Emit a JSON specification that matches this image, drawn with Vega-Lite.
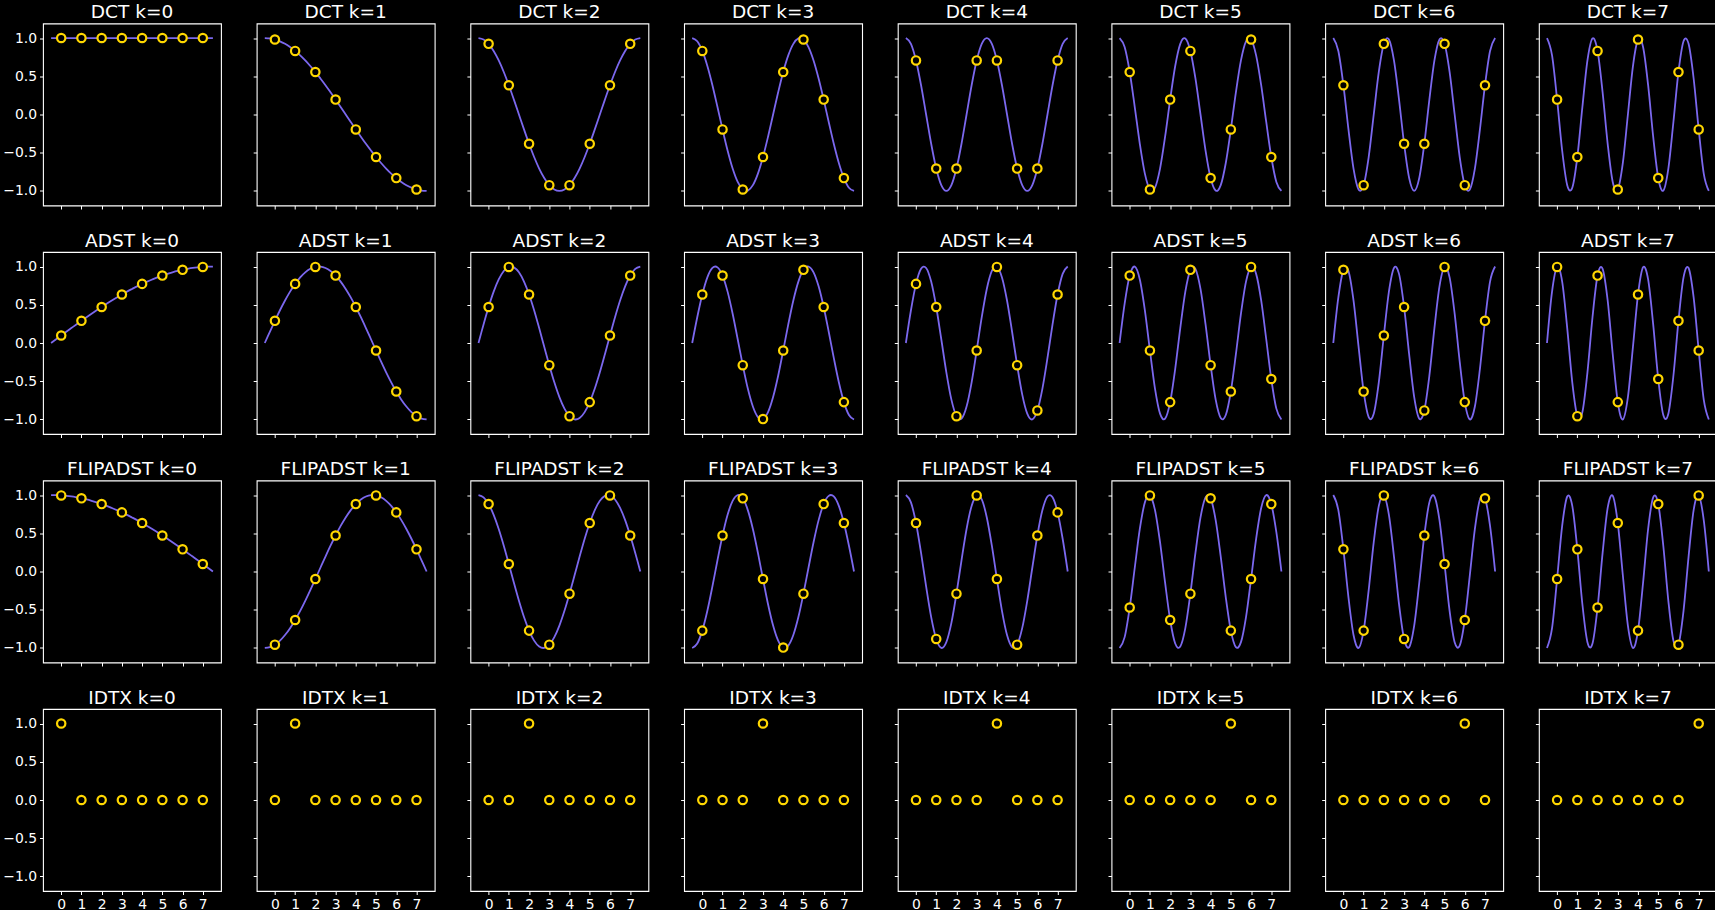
{
"$schema":"https://vega.github.io/schema/vega-lite/v6.json",
"background":"#000000",
"padding":{"left":2,"top":1.5,"right":0,"bottom":0},
"data":{"values":[
{"p":"D0","x":-0.5,"y":1},{"p":"D0","x":0,"y":1,"m":1},{"p":"D0","x":1,"y":1,"m":1},{"p":"D0","x":2,"y":1,"m":1},{"p":"D0","x":3,"y":1,"m":1},{"p":"D0","x":4,"y":1,"m":1},{"p":"D0","x":5,"y":1,"m":1},{"p":"D0","x":6,"y":1,"m":1},{"p":"D0","x":7,"y":1,"m":1},{"p":"D0","x":7.5,"y":1},

{"p":"D1","x":-0.5,"y":1},{"p":"D1","x":-0.25,"y":0.995},{"p":"D1","x":0,"y":0.981,"m":1},{"p":"D1","x":0.25,"y":0.957},{"p":"D1","x":0.5,"y":0.924},{"p":"D1","x":0.75,"y":0.882},{"p":"D1","x":1,"y":0.831,"m":1},{"p":"D1","x":1.25,"y":0.773},{"p":"D1","x":1.5,"y":0.707},{"p":"D1","x":1.75,"y":0.634},{"p":"D1","x":2,"y":0.556,"m":1},{"p":"D1","x":2.25,"y":0.471},{"p":"D1","x":2.5,"y":0.383},{"p":"D1","x":2.75,"y":0.29},{"p":"D1","x":3,"y":0.195,"m":1},{"p":"D1","x":3.25,"y":0.098},{"p":"D1","x":3.5,"y":0},{"p":"D1","x":3.75,"y":-0.098},{"p":"D1","x":4,"y":-0.195,"m":1},{"p":"D1","x":4.25,"y":-0.29},{"p":"D1","x":4.5,"y":-0.383},{"p":"D1","x":4.75,"y":-0.471},{"p":"D1","x":5,"y":-0.556,"m":1},{"p":"D1","x":5.25,"y":-0.634},{"p":"D1","x":5.5,"y":-0.707},{"p":"D1","x":5.75,"y":-0.773},{"p":"D1","x":6,"y":-0.831,"m":1},{"p":"D1","x":6.25,"y":-0.882},{"p":"D1","x":6.5,"y":-0.924},{"p":"D1","x":6.75,"y":-0.957},{"p":"D1","x":7,"y":-0.981,"m":1},{"p":"D1","x":7.25,"y":-0.995},{"p":"D1","x":7.5,"y":-1},

{"p":"D2","x":-0.5,"y":1},{"p":"D2","x":-0.25,"y":0.981},{"p":"D2","x":0,"y":0.924,"m":1},{"p":"D2","x":0.25,"y":0.831},{"p":"D2","x":0.5,"y":0.707},{"p":"D2","x":0.75,"y":0.556},{"p":"D2","x":1,"y":0.383,"m":1},{"p":"D2","x":1.25,"y":0.195},{"p":"D2","x":1.5,"y":0},{"p":"D2","x":1.75,"y":-0.195},{"p":"D2","x":2,"y":-0.383,"m":1},{"p":"D2","x":2.25,"y":-0.556},{"p":"D2","x":2.5,"y":-0.707},{"p":"D2","x":2.75,"y":-0.831},{"p":"D2","x":3,"y":-0.924,"m":1},{"p":"D2","x":3.25,"y":-0.981},{"p":"D2","x":3.5,"y":-1},{"p":"D2","x":3.75,"y":-0.981},{"p":"D2","x":4,"y":-0.924,"m":1},{"p":"D2","x":4.25,"y":-0.831},{"p":"D2","x":4.5,"y":-0.707},{"p":"D2","x":4.75,"y":-0.556},{"p":"D2","x":5,"y":-0.383,"m":1},{"p":"D2","x":5.25,"y":-0.195},{"p":"D2","x":5.5,"y":0},{"p":"D2","x":5.75,"y":0.195},{"p":"D2","x":6,"y":0.383,"m":1},{"p":"D2","x":6.25,"y":0.556},{"p":"D2","x":6.5,"y":0.707},{"p":"D2","x":6.75,"y":0.831},{"p":"D2","x":7,"y":0.924,"m":1},{"p":"D2","x":7.25,"y":0.981},{"p":"D2","x":7.5,"y":1},

{"p":"D3","x":-0.5,"y":1},{"p":"D3","x":-0.25,"y":0.957},{"p":"D3","x":0,"y":0.831,"m":1},{"p":"D3","x":0.25,"y":0.634},{"p":"D3","x":0.5,"y":0.383},{"p":"D3","x":0.75,"y":0.098},{"p":"D3","x":1,"y":-0.195,"m":1},{"p":"D3","x":1.25,"y":-0.471},{"p":"D3","x":1.5,"y":-0.707},{"p":"D3","x":1.75,"y":-0.882},{"p":"D3","x":2,"y":-0.981,"m":1},{"p":"D3","x":2.25,"y":-0.995},{"p":"D3","x":2.5,"y":-0.924},{"p":"D3","x":2.75,"y":-0.773},{"p":"D3","x":3,"y":-0.556,"m":1},{"p":"D3","x":3.25,"y":-0.29},{"p":"D3","x":3.5,"y":0},{"p":"D3","x":3.75,"y":0.29},{"p":"D3","x":4,"y":0.556,"m":1},{"p":"D3","x":4.25,"y":0.773},{"p":"D3","x":4.5,"y":0.924},{"p":"D3","x":4.75,"y":0.995},{"p":"D3","x":5,"y":0.981,"m":1},{"p":"D3","x":5.25,"y":0.882},{"p":"D3","x":5.5,"y":0.707},{"p":"D3","x":5.75,"y":0.471},{"p":"D3","x":6,"y":0.195,"m":1},{"p":"D3","x":6.25,"y":-0.098},{"p":"D3","x":6.5,"y":-0.383},{"p":"D3","x":6.75,"y":-0.634},{"p":"D3","x":7,"y":-0.831,"m":1},{"p":"D3","x":7.25,"y":-0.957},{"p":"D3","x":7.5,"y":-1},

{"p":"D4","x":-0.5,"y":1},{"p":"D4","x":-0.25,"y":0.924},{"p":"D4","x":0,"y":0.707,"m":1},{"p":"D4","x":0.25,"y":0.383},{"p":"D4","x":0.5,"y":0},{"p":"D4","x":0.75,"y":-0.383},{"p":"D4","x":1,"y":-0.707,"m":1},{"p":"D4","x":1.25,"y":-0.924},{"p":"D4","x":1.5,"y":-1},{"p":"D4","x":1.75,"y":-0.924},{"p":"D4","x":2,"y":-0.707,"m":1},{"p":"D4","x":2.25,"y":-0.383},{"p":"D4","x":2.5,"y":0},{"p":"D4","x":2.75,"y":0.383},{"p":"D4","x":3,"y":0.707,"m":1},{"p":"D4","x":3.25,"y":0.924},{"p":"D4","x":3.5,"y":1},{"p":"D4","x":3.75,"y":0.924},{"p":"D4","x":4,"y":0.707,"m":1},{"p":"D4","x":4.25,"y":0.383},{"p":"D4","x":4.5,"y":0},{"p":"D4","x":4.75,"y":-0.383},{"p":"D4","x":5,"y":-0.707,"m":1},{"p":"D4","x":5.25,"y":-0.924},{"p":"D4","x":5.5,"y":-1},{"p":"D4","x":5.75,"y":-0.924},{"p":"D4","x":6,"y":-0.707,"m":1},{"p":"D4","x":6.25,"y":-0.383},{"p":"D4","x":6.5,"y":0},{"p":"D4","x":6.75,"y":0.383},{"p":"D4","x":7,"y":0.707,"m":1},{"p":"D4","x":7.25,"y":0.924},{"p":"D4","x":7.5,"y":1},

{"p":"D5","x":-0.5,"y":1},{"p":"D5","x":-0.25,"y":0.882},{"p":"D5","x":0,"y":0.556,"m":1},{"p":"D5","x":0.25,"y":0.098},{"p":"D5","x":0.5,"y":-0.383},{"p":"D5","x":0.75,"y":-0.773},{"p":"D5","x":1,"y":-0.981,"m":1},{"p":"D5","x":1.25,"y":-0.957},{"p":"D5","x":1.5,"y":-0.707},{"p":"D5","x":1.75,"y":-0.29},{"p":"D5","x":2,"y":0.195,"m":1},{"p":"D5","x":2.25,"y":0.634},{"p":"D5","x":2.5,"y":0.924},{"p":"D5","x":2.75,"y":0.995},{"p":"D5","x":3,"y":0.831,"m":1},{"p":"D5","x":3.25,"y":0.471},{"p":"D5","x":3.5,"y":0},{"p":"D5","x":3.75,"y":-0.471},{"p":"D5","x":4,"y":-0.831,"m":1},{"p":"D5","x":4.25,"y":-0.995},{"p":"D5","x":4.5,"y":-0.924},{"p":"D5","x":4.75,"y":-0.634},{"p":"D5","x":5,"y":-0.195,"m":1},{"p":"D5","x":5.25,"y":0.29},{"p":"D5","x":5.5,"y":0.707},{"p":"D5","x":5.75,"y":0.957},{"p":"D5","x":6,"y":0.981,"m":1},{"p":"D5","x":6.25,"y":0.773},{"p":"D5","x":6.5,"y":0.383},{"p":"D5","x":6.75,"y":-0.098},{"p":"D5","x":7,"y":-0.556,"m":1},{"p":"D5","x":7.25,"y":-0.882},{"p":"D5","x":7.5,"y":-1},

{"p":"D6","x":-0.5,"y":1},{"p":"D6","x":-0.25,"y":0.831},{"p":"D6","x":0,"y":0.383,"m":1},{"p":"D6","x":0.25,"y":-0.195},{"p":"D6","x":0.5,"y":-0.707},{"p":"D6","x":0.75,"y":-0.981},{"p":"D6","x":1,"y":-0.924,"m":1},{"p":"D6","x":1.25,"y":-0.556},{"p":"D6","x":1.5,"y":0},{"p":"D6","x":1.75,"y":0.556},{"p":"D6","x":2,"y":0.924,"m":1},{"p":"D6","x":2.25,"y":0.981},{"p":"D6","x":2.5,"y":0.707},{"p":"D6","x":2.75,"y":0.195},{"p":"D6","x":3,"y":-0.383,"m":1},{"p":"D6","x":3.25,"y":-0.831},{"p":"D6","x":3.5,"y":-1},{"p":"D6","x":3.75,"y":-0.831},{"p":"D6","x":4,"y":-0.383,"m":1},{"p":"D6","x":4.25,"y":0.195},{"p":"D6","x":4.5,"y":0.707},{"p":"D6","x":4.75,"y":0.981},{"p":"D6","x":5,"y":0.924,"m":1},{"p":"D6","x":5.25,"y":0.556},{"p":"D6","x":5.5,"y":0},{"p":"D6","x":5.75,"y":-0.556},{"p":"D6","x":6,"y":-0.924,"m":1},{"p":"D6","x":6.25,"y":-0.981},{"p":"D6","x":6.5,"y":-0.707},{"p":"D6","x":6.75,"y":-0.195},{"p":"D6","x":7,"y":0.383,"m":1},{"p":"D6","x":7.25,"y":0.831},{"p":"D6","x":7.5,"y":1},

{"p":"D7","x":-0.5,"y":1},{"p":"D7","x":-0.25,"y":0.773},{"p":"D7","x":0,"y":0.195,"m":1},{"p":"D7","x":0.25,"y":-0.471},{"p":"D7","x":0.5,"y":-0.924},{"p":"D7","x":0.75,"y":-0.957},{"p":"D7","x":1,"y":-0.556,"m":1},{"p":"D7","x":1.25,"y":0.098},{"p":"D7","x":1.5,"y":0.707},{"p":"D7","x":1.75,"y":0.995},{"p":"D7","x":2,"y":0.831,"m":1},{"p":"D7","x":2.25,"y":0.29},{"p":"D7","x":2.5,"y":-0.383},{"p":"D7","x":2.75,"y":-0.882},{"p":"D7","x":3,"y":-0.981,"m":1},{"p":"D7","x":3.25,"y":-0.634},{"p":"D7","x":3.5,"y":0},{"p":"D7","x":3.75,"y":0.634},{"p":"D7","x":4,"y":0.981,"m":1},{"p":"D7","x":4.25,"y":0.882},{"p":"D7","x":4.5,"y":0.383},{"p":"D7","x":4.75,"y":-0.29},{"p":"D7","x":5,"y":-0.831,"m":1},{"p":"D7","x":5.25,"y":-0.995},{"p":"D7","x":5.5,"y":-0.707},{"p":"D7","x":5.75,"y":-0.098},{"p":"D7","x":6,"y":0.556,"m":1},{"p":"D7","x":6.25,"y":0.957},{"p":"D7","x":6.5,"y":0.924},{"p":"D7","x":6.75,"y":0.471},{"p":"D7","x":7,"y":-0.195,"m":1},{"p":"D7","x":7.25,"y":-0.773},{"p":"D7","x":7.5,"y":-1},

{"p":"A0","x":-0.5,"y":0},{"p":"A0","x":-0.25,"y":0.049},{"p":"A0","x":0,"y":0.098,"m":1},{"p":"A0","x":0.25,"y":0.147},{"p":"A0","x":0.5,"y":0.195},{"p":"A0","x":0.75,"y":0.243},{"p":"A0","x":1,"y":0.29,"m":1},{"p":"A0","x":1.25,"y":0.337},{"p":"A0","x":1.5,"y":0.383},{"p":"A0","x":1.75,"y":0.428},{"p":"A0","x":2,"y":0.471,"m":1},{"p":"A0","x":2.25,"y":0.514},{"p":"A0","x":2.5,"y":0.556},{"p":"A0","x":2.75,"y":0.596},{"p":"A0","x":3,"y":0.634,"m":1},{"p":"A0","x":3.25,"y":0.672},{"p":"A0","x":3.5,"y":0.707},{"p":"A0","x":3.75,"y":0.741},{"p":"A0","x":4,"y":0.773,"m":1},{"p":"A0","x":4.25,"y":0.803},{"p":"A0","x":4.5,"y":0.831},{"p":"A0","x":4.75,"y":0.858},{"p":"A0","x":5,"y":0.882,"m":1},{"p":"A0","x":5.25,"y":0.904},{"p":"A0","x":5.5,"y":0.924},{"p":"A0","x":5.75,"y":0.942},{"p":"A0","x":6,"y":0.957,"m":1},{"p":"A0","x":6.25,"y":0.97},{"p":"A0","x":6.5,"y":0.981},{"p":"A0","x":6.75,"y":0.989},{"p":"A0","x":7,"y":0.995,"m":1},{"p":"A0","x":7.25,"y":0.999},{"p":"A0","x":7.5,"y":1},

{"p":"A1","x":-0.5,"y":0},{"p":"A1","x":-0.25,"y":0.147},{"p":"A1","x":0,"y":0.29,"m":1},{"p":"A1","x":0.25,"y":0.428},{"p":"A1","x":0.5,"y":0.556},{"p":"A1","x":0.75,"y":0.672},{"p":"A1","x":1,"y":0.773,"m":1},{"p":"A1","x":1.25,"y":0.858},{"p":"A1","x":1.5,"y":0.924},{"p":"A1","x":1.75,"y":0.97},{"p":"A1","x":2,"y":0.995,"m":1},{"p":"A1","x":2.25,"y":0.999},{"p":"A1","x":2.5,"y":0.981},{"p":"A1","x":2.75,"y":0.942},{"p":"A1","x":3,"y":0.882,"m":1},{"p":"A1","x":3.25,"y":0.803},{"p":"A1","x":3.5,"y":0.707},{"p":"A1","x":3.75,"y":0.596},{"p":"A1","x":4,"y":0.471,"m":1},{"p":"A1","x":4.25,"y":0.337},{"p":"A1","x":4.5,"y":0.195},{"p":"A1","x":4.75,"y":0.049},{"p":"A1","x":5,"y":-0.098,"m":1},{"p":"A1","x":5.25,"y":-0.243},{"p":"A1","x":5.5,"y":-0.383},{"p":"A1","x":5.75,"y":-0.514},{"p":"A1","x":6,"y":-0.634,"m":1},{"p":"A1","x":6.25,"y":-0.741},{"p":"A1","x":6.5,"y":-0.831},{"p":"A1","x":6.75,"y":-0.904},{"p":"A1","x":7,"y":-0.957,"m":1},{"p":"A1","x":7.25,"y":-0.989},{"p":"A1","x":7.5,"y":-1},

{"p":"A2","x":-0.5,"y":0},{"p":"A2","x":-0.25,"y":0.243},{"p":"A2","x":0,"y":0.471,"m":1},{"p":"A2","x":0.25,"y":0.672},{"p":"A2","x":0.5,"y":0.831},{"p":"A2","x":0.75,"y":0.942},{"p":"A2","x":1,"y":0.995,"m":1},{"p":"A2","x":1.25,"y":0.989},{"p":"A2","x":1.5,"y":0.924},{"p":"A2","x":1.75,"y":0.803},{"p":"A2","x":2,"y":0.634,"m":1},{"p":"A2","x":2.25,"y":0.428},{"p":"A2","x":2.5,"y":0.195},{"p":"A2","x":2.75,"y":-0.049},{"p":"A2","x":3,"y":-0.29,"m":1},{"p":"A2","x":3.25,"y":-0.514},{"p":"A2","x":3.5,"y":-0.707},{"p":"A2","x":3.75,"y":-0.858},{"p":"A2","x":4,"y":-0.957,"m":1},{"p":"A2","x":4.25,"y":-0.999},{"p":"A2","x":4.5,"y":-0.981},{"p":"A2","x":4.75,"y":-0.904},{"p":"A2","x":5,"y":-0.773,"m":1},{"p":"A2","x":5.25,"y":-0.596},{"p":"A2","x":5.5,"y":-0.383},{"p":"A2","x":5.75,"y":-0.147},{"p":"A2","x":6,"y":0.098,"m":1},{"p":"A2","x":6.25,"y":0.337},{"p":"A2","x":6.5,"y":0.556},{"p":"A2","x":6.75,"y":0.741},{"p":"A2","x":7,"y":0.882,"m":1},{"p":"A2","x":7.25,"y":0.97},{"p":"A2","x":7.5,"y":1},

{"p":"A3","x":-0.5,"y":0},{"p":"A3","x":-0.25,"y":0.337},{"p":"A3","x":0,"y":0.634,"m":1},{"p":"A3","x":0.25,"y":0.858},{"p":"A3","x":0.5,"y":0.981},{"p":"A3","x":0.75,"y":0.989},{"p":"A3","x":1,"y":0.882,"m":1},{"p":"A3","x":1.25,"y":0.672},{"p":"A3","x":1.5,"y":0.383},{"p":"A3","x":1.75,"y":0.049},{"p":"A3","x":2,"y":-0.29,"m":1},{"p":"A3","x":2.25,"y":-0.596},{"p":"A3","x":2.5,"y":-0.831},{"p":"A3","x":2.75,"y":-0.97},{"p":"A3","x":3,"y":-0.995,"m":1},{"p":"A3","x":3.25,"y":-0.904},{"p":"A3","x":3.5,"y":-0.707},{"p":"A3","x":3.75,"y":-0.428},{"p":"A3","x":4,"y":-0.098,"m":1},{"p":"A3","x":4.25,"y":0.243},{"p":"A3","x":4.5,"y":0.556},{"p":"A3","x":4.75,"y":0.803},{"p":"A3","x":5,"y":0.957,"m":1},{"p":"A3","x":5.25,"y":0.999},{"p":"A3","x":5.5,"y":0.924},{"p":"A3","x":5.75,"y":0.741},{"p":"A3","x":6,"y":0.471,"m":1},{"p":"A3","x":6.25,"y":0.147},{"p":"A3","x":6.5,"y":-0.195},{"p":"A3","x":6.75,"y":-0.514},{"p":"A3","x":7,"y":-0.773,"m":1},{"p":"A3","x":7.25,"y":-0.942},{"p":"A3","x":7.5,"y":-1},

{"p":"A4","x":-0.5,"y":0},{"p":"A4","x":-0.25,"y":0.428},{"p":"A4","x":0,"y":0.773,"m":1},{"p":"A4","x":0.25,"y":0.97},{"p":"A4","x":0.5,"y":0.981},{"p":"A4","x":0.75,"y":0.803},{"p":"A4","x":1,"y":0.471,"m":1},{"p":"A4","x":1.25,"y":0.049},{"p":"A4","x":1.5,"y":-0.383},{"p":"A4","x":1.75,"y":-0.741},{"p":"A4","x":2,"y":-0.957,"m":1},{"p":"A4","x":2.25,"y":-0.989},{"p":"A4","x":2.5,"y":-0.831},{"p":"A4","x":2.75,"y":-0.514},{"p":"A4","x":3,"y":-0.098,"m":1},{"p":"A4","x":3.25,"y":0.337},{"p":"A4","x":3.5,"y":0.707},{"p":"A4","x":3.75,"y":0.942},{"p":"A4","x":4,"y":0.995,"m":1},{"p":"A4","x":4.25,"y":0.858},{"p":"A4","x":4.5,"y":0.556},{"p":"A4","x":4.75,"y":0.147},{"p":"A4","x":5,"y":-0.29,"m":1},{"p":"A4","x":5.25,"y":-0.672},{"p":"A4","x":5.5,"y":-0.924},{"p":"A4","x":5.75,"y":-0.999},{"p":"A4","x":6,"y":-0.882,"m":1},{"p":"A4","x":6.25,"y":-0.596},{"p":"A4","x":6.5,"y":-0.195},{"p":"A4","x":6.75,"y":0.243},{"p":"A4","x":7,"y":0.634,"m":1},{"p":"A4","x":7.25,"y":0.904},{"p":"A4","x":7.5,"y":1},

{"p":"A5","x":-0.5,"y":0},{"p":"A5","x":-0.25,"y":0.514},{"p":"A5","x":0,"y":0.882,"m":1},{"p":"A5","x":0.25,"y":0.999},{"p":"A5","x":0.5,"y":0.831},{"p":"A5","x":0.75,"y":0.428},{"p":"A5","x":1,"y":-0.098,"m":1},{"p":"A5","x":1.25,"y":-0.596},{"p":"A5","x":1.5,"y":-0.924},{"p":"A5","x":1.75,"y":-0.989},{"p":"A5","x":2,"y":-0.773,"m":1},{"p":"A5","x":2.25,"y":-0.337},{"p":"A5","x":2.5,"y":0.195},{"p":"A5","x":2.75,"y":0.672},{"p":"A5","x":3,"y":0.957,"m":1},{"p":"A5","x":3.25,"y":0.97},{"p":"A5","x":3.5,"y":0.707},{"p":"A5","x":3.75,"y":0.243},{"p":"A5","x":4,"y":-0.29,"m":1},{"p":"A5","x":4.25,"y":-0.741},{"p":"A5","x":4.5,"y":-0.981},{"p":"A5","x":4.75,"y":-0.942},{"p":"A5","x":5,"y":-0.634,"m":1},{"p":"A5","x":5.25,"y":-0.147},{"p":"A5","x":5.5,"y":0.383},{"p":"A5","x":5.75,"y":0.803},{"p":"A5","x":6,"y":0.995,"m":1},{"p":"A5","x":6.25,"y":0.904},{"p":"A5","x":6.5,"y":0.556},{"p":"A5","x":6.75,"y":0.049},{"p":"A5","x":7,"y":-0.471,"m":1},{"p":"A5","x":7.25,"y":-0.858},{"p":"A5","x":7.5,"y":-1},

{"p":"A6","x":-0.5,"y":0},{"p":"A6","x":-0.25,"y":0.596},{"p":"A6","x":0,"y":0.957,"m":1},{"p":"A6","x":0.25,"y":0.942},{"p":"A6","x":0.5,"y":0.556},{"p":"A6","x":0.75,"y":-0.049},{"p":"A6","x":1,"y":-0.634,"m":1},{"p":"A6","x":1.25,"y":-0.97},{"p":"A6","x":1.5,"y":-0.924},{"p":"A6","x":1.75,"y":-0.514},{"p":"A6","x":2,"y":0.098,"m":1},{"p":"A6","x":2.25,"y":0.672},{"p":"A6","x":2.5,"y":0.981},{"p":"A6","x":2.75,"y":0.904},{"p":"A6","x":3,"y":0.471,"m":1},{"p":"A6","x":3.25,"y":-0.147},{"p":"A6","x":3.5,"y":-0.707},{"p":"A6","x":3.75,"y":-0.989},{"p":"A6","x":4,"y":-0.882,"m":1},{"p":"A6","x":4.25,"y":-0.428},{"p":"A6","x":4.5,"y":0.195},{"p":"A6","x":4.75,"y":0.741},{"p":"A6","x":5,"y":0.995,"m":1},{"p":"A6","x":5.25,"y":0.858},{"p":"A6","x":5.5,"y":0.383},{"p":"A6","x":5.75,"y":-0.243},{"p":"A6","x":6,"y":-0.773,"m":1},{"p":"A6","x":6.25,"y":-0.999},{"p":"A6","x":6.5,"y":-0.831},{"p":"A6","x":6.75,"y":-0.337},{"p":"A6","x":7,"y":0.29,"m":1},{"p":"A6","x":7.25,"y":0.803},{"p":"A6","x":7.5,"y":1},

{"p":"A7","x":-0.5,"y":0},{"p":"A7","x":-0.25,"y":0.672},{"p":"A7","x":0,"y":0.995,"m":1},{"p":"A7","x":0.25,"y":0.803},{"p":"A7","x":0.5,"y":0.195},{"p":"A7","x":0.75,"y":-0.514},{"p":"A7","x":1,"y":-0.957,"m":1},{"p":"A7","x":1.25,"y":-0.904},{"p":"A7","x":1.5,"y":-0.383},{"p":"A7","x":1.75,"y":0.337},{"p":"A7","x":2,"y":0.882,"m":1},{"p":"A7","x":2.25,"y":0.97},{"p":"A7","x":2.5,"y":0.556},{"p":"A7","x":2.75,"y":-0.147},{"p":"A7","x":3,"y":-0.773,"m":1},{"p":"A7","x":3.25,"y":-0.999},{"p":"A7","x":3.5,"y":-0.707},{"p":"A7","x":3.75,"y":-0.049},{"p":"A7","x":4,"y":0.634,"m":1},{"p":"A7","x":4.25,"y":0.989},{"p":"A7","x":4.5,"y":0.831},{"p":"A7","x":4.75,"y":0.243},{"p":"A7","x":5,"y":-0.471,"m":1},{"p":"A7","x":5.25,"y":-0.942},{"p":"A7","x":5.5,"y":-0.924},{"p":"A7","x":5.75,"y":-0.428},{"p":"A7","x":6,"y":0.29,"m":1},{"p":"A7","x":6.25,"y":0.858},{"p":"A7","x":6.5,"y":0.981},{"p":"A7","x":6.75,"y":0.596},{"p":"A7","x":7,"y":-0.098,"m":1},{"p":"A7","x":7.25,"y":-0.741},{"p":"A7","x":7.5,"y":-1},

{"p":"F0","x":-0.5,"y":1},{"p":"F0","x":-0.25,"y":0.999},{"p":"F0","x":0,"y":0.995,"m":1},{"p":"F0","x":0.25,"y":0.989},{"p":"F0","x":0.5,"y":0.981},{"p":"F0","x":0.75,"y":0.97},{"p":"F0","x":1,"y":0.957,"m":1},{"p":"F0","x":1.25,"y":0.942},{"p":"F0","x":1.5,"y":0.924},{"p":"F0","x":1.75,"y":0.904},{"p":"F0","x":2,"y":0.882,"m":1},{"p":"F0","x":2.25,"y":0.858},{"p":"F0","x":2.5,"y":0.831},{"p":"F0","x":2.75,"y":0.803},{"p":"F0","x":3,"y":0.773,"m":1},{"p":"F0","x":3.25,"y":0.741},{"p":"F0","x":3.5,"y":0.707},{"p":"F0","x":3.75,"y":0.672},{"p":"F0","x":4,"y":0.634,"m":1},{"p":"F0","x":4.25,"y":0.596},{"p":"F0","x":4.5,"y":0.556},{"p":"F0","x":4.75,"y":0.514},{"p":"F0","x":5,"y":0.471,"m":1},{"p":"F0","x":5.25,"y":0.428},{"p":"F0","x":5.5,"y":0.383},{"p":"F0","x":5.75,"y":0.337},{"p":"F0","x":6,"y":0.29,"m":1},{"p":"F0","x":6.25,"y":0.243},{"p":"F0","x":6.5,"y":0.195},{"p":"F0","x":6.75,"y":0.147},{"p":"F0","x":7,"y":0.098,"m":1},{"p":"F0","x":7.25,"y":0.049},{"p":"F0","x":7.5,"y":0},

{"p":"F1","x":-0.5,"y":-1},{"p":"F1","x":-0.25,"y":-0.989},{"p":"F1","x":0,"y":-0.957,"m":1},{"p":"F1","x":0.25,"y":-0.904},{"p":"F1","x":0.5,"y":-0.831},{"p":"F1","x":0.75,"y":-0.741},{"p":"F1","x":1,"y":-0.634,"m":1},{"p":"F1","x":1.25,"y":-0.514},{"p":"F1","x":1.5,"y":-0.383},{"p":"F1","x":1.75,"y":-0.243},{"p":"F1","x":2,"y":-0.098,"m":1},{"p":"F1","x":2.25,"y":0.049},{"p":"F1","x":2.5,"y":0.195},{"p":"F1","x":2.75,"y":0.337},{"p":"F1","x":3,"y":0.471,"m":1},{"p":"F1","x":3.25,"y":0.596},{"p":"F1","x":3.5,"y":0.707},{"p":"F1","x":3.75,"y":0.803},{"p":"F1","x":4,"y":0.882,"m":1},{"p":"F1","x":4.25,"y":0.942},{"p":"F1","x":4.5,"y":0.981},{"p":"F1","x":4.75,"y":0.999},{"p":"F1","x":5,"y":0.995,"m":1},{"p":"F1","x":5.25,"y":0.97},{"p":"F1","x":5.5,"y":0.924},{"p":"F1","x":5.75,"y":0.858},{"p":"F1","x":6,"y":0.773,"m":1},{"p":"F1","x":6.25,"y":0.672},{"p":"F1","x":6.5,"y":0.556},{"p":"F1","x":6.75,"y":0.428},{"p":"F1","x":7,"y":0.29,"m":1},{"p":"F1","x":7.25,"y":0.147},{"p":"F1","x":7.5,"y":0},

{"p":"F2","x":-0.5,"y":1},{"p":"F2","x":-0.25,"y":0.97},{"p":"F2","x":0,"y":0.882,"m":1},{"p":"F2","x":0.25,"y":0.741},{"p":"F2","x":0.5,"y":0.556},{"p":"F2","x":0.75,"y":0.337},{"p":"F2","x":1,"y":0.098,"m":1},{"p":"F2","x":1.25,"y":-0.147},{"p":"F2","x":1.5,"y":-0.383},{"p":"F2","x":1.75,"y":-0.596},{"p":"F2","x":2,"y":-0.773,"m":1},{"p":"F2","x":2.25,"y":-0.904},{"p":"F2","x":2.5,"y":-0.981},{"p":"F2","x":2.75,"y":-0.999},{"p":"F2","x":3,"y":-0.957,"m":1},{"p":"F2","x":3.25,"y":-0.858},{"p":"F2","x":3.5,"y":-0.707},{"p":"F2","x":3.75,"y":-0.514},{"p":"F2","x":4,"y":-0.29,"m":1},{"p":"F2","x":4.25,"y":-0.049},{"p":"F2","x":4.5,"y":0.195},{"p":"F2","x":4.75,"y":0.428},{"p":"F2","x":5,"y":0.634,"m":1},{"p":"F2","x":5.25,"y":0.803},{"p":"F2","x":5.5,"y":0.924},{"p":"F2","x":5.75,"y":0.989},{"p":"F2","x":6,"y":0.995,"m":1},{"p":"F2","x":6.25,"y":0.942},{"p":"F2","x":6.5,"y":0.831},{"p":"F2","x":6.75,"y":0.672},{"p":"F2","x":7,"y":0.471,"m":1},{"p":"F2","x":7.25,"y":0.243},{"p":"F2","x":7.5,"y":0},

{"p":"F3","x":-0.5,"y":-1},{"p":"F3","x":-0.25,"y":-0.942},{"p":"F3","x":0,"y":-0.773,"m":1},{"p":"F3","x":0.25,"y":-0.514},{"p":"F3","x":0.5,"y":-0.195},{"p":"F3","x":0.75,"y":0.147},{"p":"F3","x":1,"y":0.471,"m":1},{"p":"F3","x":1.25,"y":0.741},{"p":"F3","x":1.5,"y":0.924},{"p":"F3","x":1.75,"y":0.999},{"p":"F3","x":2,"y":0.957,"m":1},{"p":"F3","x":2.25,"y":0.803},{"p":"F3","x":2.5,"y":0.556},{"p":"F3","x":2.75,"y":0.243},{"p":"F3","x":3,"y":-0.098,"m":1},{"p":"F3","x":3.25,"y":-0.428},{"p":"F3","x":3.5,"y":-0.707},{"p":"F3","x":3.75,"y":-0.904},{"p":"F3","x":4,"y":-0.995,"m":1},{"p":"F3","x":4.25,"y":-0.97},{"p":"F3","x":4.5,"y":-0.831},{"p":"F3","x":4.75,"y":-0.596},{"p":"F3","x":5,"y":-0.29,"m":1},{"p":"F3","x":5.25,"y":0.049},{"p":"F3","x":5.5,"y":0.383},{"p":"F3","x":5.75,"y":0.672},{"p":"F3","x":6,"y":0.882,"m":1},{"p":"F3","x":6.25,"y":0.989},{"p":"F3","x":6.5,"y":0.981},{"p":"F3","x":6.75,"y":0.858},{"p":"F3","x":7,"y":0.634,"m":1},{"p":"F3","x":7.25,"y":0.337},{"p":"F3","x":7.5,"y":0},

{"p":"F4","x":-0.5,"y":1},{"p":"F4","x":-0.25,"y":0.904},{"p":"F4","x":0,"y":0.634,"m":1},{"p":"F4","x":0.25,"y":0.243},{"p":"F4","x":0.5,"y":-0.195},{"p":"F4","x":0.75,"y":-0.596},{"p":"F4","x":1,"y":-0.882,"m":1},{"p":"F4","x":1.25,"y":-0.999},{"p":"F4","x":1.5,"y":-0.924},{"p":"F4","x":1.75,"y":-0.672},{"p":"F4","x":2,"y":-0.29,"m":1},{"p":"F4","x":2.25,"y":0.147},{"p":"F4","x":2.5,"y":0.556},{"p":"F4","x":2.75,"y":0.858},{"p":"F4","x":3,"y":0.995,"m":1},{"p":"F4","x":3.25,"y":0.942},{"p":"F4","x":3.5,"y":0.707},{"p":"F4","x":3.75,"y":0.337},{"p":"F4","x":4,"y":-0.098,"m":1},{"p":"F4","x":4.25,"y":-0.514},{"p":"F4","x":4.5,"y":-0.831},{"p":"F4","x":4.75,"y":-0.989},{"p":"F4","x":5,"y":-0.957,"m":1},{"p":"F4","x":5.25,"y":-0.741},{"p":"F4","x":5.5,"y":-0.383},{"p":"F4","x":5.75,"y":0.049},{"p":"F4","x":6,"y":0.471,"m":1},{"p":"F4","x":6.25,"y":0.803},{"p":"F4","x":6.5,"y":0.981},{"p":"F4","x":6.75,"y":0.97},{"p":"F4","x":7,"y":0.773,"m":1},{"p":"F4","x":7.25,"y":0.428},{"p":"F4","x":7.5,"y":0},

{"p":"F5","x":-0.5,"y":-1},{"p":"F5","x":-0.25,"y":-0.858},{"p":"F5","x":0,"y":-0.471,"m":1},{"p":"F5","x":0.25,"y":0.049},{"p":"F5","x":0.5,"y":0.556},{"p":"F5","x":0.75,"y":0.904},{"p":"F5","x":1,"y":0.995,"m":1},{"p":"F5","x":1.25,"y":0.803},{"p":"F5","x":1.5,"y":0.383},{"p":"F5","x":1.75,"y":-0.147},{"p":"F5","x":2,"y":-0.634,"m":1},{"p":"F5","x":2.25,"y":-0.942},{"p":"F5","x":2.5,"y":-0.981},{"p":"F5","x":2.75,"y":-0.741},{"p":"F5","x":3,"y":-0.29,"m":1},{"p":"F5","x":3.25,"y":0.243},{"p":"F5","x":3.5,"y":0.707},{"p":"F5","x":3.75,"y":0.97},{"p":"F5","x":4,"y":0.957,"m":1},{"p":"F5","x":4.25,"y":0.672},{"p":"F5","x":4.5,"y":0.195},{"p":"F5","x":4.75,"y":-0.337},{"p":"F5","x":5,"y":-0.773,"m":1},{"p":"F5","x":5.25,"y":-0.989},{"p":"F5","x":5.5,"y":-0.924},{"p":"F5","x":5.75,"y":-0.596},{"p":"F5","x":6,"y":-0.098,"m":1},{"p":"F5","x":6.25,"y":0.428},{"p":"F5","x":6.5,"y":0.831},{"p":"F5","x":6.75,"y":0.999},{"p":"F5","x":7,"y":0.882,"m":1},{"p":"F5","x":7.25,"y":0.514},{"p":"F5","x":7.5,"y":0},

{"p":"F6","x":-0.5,"y":1},{"p":"F6","x":-0.25,"y":0.803},{"p":"F6","x":0,"y":0.29,"m":1},{"p":"F6","x":0.25,"y":-0.337},{"p":"F6","x":0.5,"y":-0.831},{"p":"F6","x":0.75,"y":-0.999},{"p":"F6","x":1,"y":-0.773,"m":1},{"p":"F6","x":1.25,"y":-0.243},{"p":"F6","x":1.5,"y":0.383},{"p":"F6","x":1.75,"y":0.858},{"p":"F6","x":2,"y":0.995,"m":1},{"p":"F6","x":2.25,"y":0.741},{"p":"F6","x":2.5,"y":0.195},{"p":"F6","x":2.75,"y":-0.428},{"p":"F6","x":3,"y":-0.882,"m":1},{"p":"F6","x":3.25,"y":-0.989},{"p":"F6","x":3.5,"y":-0.707},{"p":"F6","x":3.75,"y":-0.147},{"p":"F6","x":4,"y":0.471,"m":1},{"p":"F6","x":4.25,"y":0.904},{"p":"F6","x":4.5,"y":0.981},{"p":"F6","x":4.75,"y":0.672},{"p":"F6","x":5,"y":0.098,"m":1},{"p":"F6","x":5.25,"y":-0.514},{"p":"F6","x":5.5,"y":-0.924},{"p":"F6","x":5.75,"y":-0.97},{"p":"F6","x":6,"y":-0.634,"m":1},{"p":"F6","x":6.25,"y":-0.049},{"p":"F6","x":6.5,"y":0.556},{"p":"F6","x":6.75,"y":0.942},{"p":"F6","x":7,"y":0.957,"m":1},{"p":"F6","x":7.25,"y":0.596},{"p":"F6","x":7.5,"y":0},

{"p":"F7","x":-0.5,"y":-1},{"p":"F7","x":-0.25,"y":-0.741},{"p":"F7","x":0,"y":-0.098,"m":1},{"p":"F7","x":0.25,"y":0.596},{"p":"F7","x":0.5,"y":0.981},{"p":"F7","x":0.75,"y":0.858},{"p":"F7","x":1,"y":0.29,"m":1},{"p":"F7","x":1.25,"y":-0.428},{"p":"F7","x":1.5,"y":-0.924},{"p":"F7","x":1.75,"y":-0.942},{"p":"F7","x":2,"y":-0.471,"m":1},{"p":"F7","x":2.25,"y":0.243},{"p":"F7","x":2.5,"y":0.831},{"p":"F7","x":2.75,"y":0.989},{"p":"F7","x":3,"y":0.634,"m":1},{"p":"F7","x":3.25,"y":-0.049},{"p":"F7","x":3.5,"y":-0.707},{"p":"F7","x":3.75,"y":-0.999},{"p":"F7","x":4,"y":-0.773,"m":1},{"p":"F7","x":4.25,"y":-0.147},{"p":"F7","x":4.5,"y":0.556},{"p":"F7","x":4.75,"y":0.97},{"p":"F7","x":5,"y":0.882,"m":1},{"p":"F7","x":5.25,"y":0.337},{"p":"F7","x":5.5,"y":-0.383},{"p":"F7","x":5.75,"y":-0.904},{"p":"F7","x":6,"y":-0.957,"m":1},{"p":"F7","x":6.25,"y":-0.514},{"p":"F7","x":6.5,"y":0.195},{"p":"F7","x":6.75,"y":0.803},{"p":"F7","x":7,"y":0.995,"m":1},{"p":"F7","x":7.25,"y":0.672},{"p":"F7","x":7.5,"y":0},

{"p":"I0","x":0,"y":1},{"p":"I0","x":1,"y":0},{"p":"I0","x":2,"y":0},{"p":"I0","x":3,"y":0},{"p":"I0","x":4,"y":0},{"p":"I0","x":5,"y":0},{"p":"I0","x":6,"y":0},{"p":"I0","x":7,"y":0},
{"p":"I1","x":0,"y":0},{"p":"I1","x":1,"y":1},{"p":"I1","x":2,"y":0},{"p":"I1","x":3,"y":0},{"p":"I1","x":4,"y":0},{"p":"I1","x":5,"y":0},{"p":"I1","x":6,"y":0},{"p":"I1","x":7,"y":0},
{"p":"I2","x":0,"y":0},{"p":"I2","x":1,"y":0},{"p":"I2","x":2,"y":1},{"p":"I2","x":3,"y":0},{"p":"I2","x":4,"y":0},{"p":"I2","x":5,"y":0},{"p":"I2","x":6,"y":0},{"p":"I2","x":7,"y":0},
{"p":"I3","x":0,"y":0},{"p":"I3","x":1,"y":0},{"p":"I3","x":2,"y":0},{"p":"I3","x":3,"y":1},{"p":"I3","x":4,"y":0},{"p":"I3","x":5,"y":0},{"p":"I3","x":6,"y":0},{"p":"I3","x":7,"y":0},
{"p":"I4","x":0,"y":0},{"p":"I4","x":1,"y":0},{"p":"I4","x":2,"y":0},{"p":"I4","x":3,"y":0},{"p":"I4","x":4,"y":1},{"p":"I4","x":5,"y":0},{"p":"I4","x":6,"y":0},{"p":"I4","x":7,"y":0},
{"p":"I5","x":0,"y":0},{"p":"I5","x":1,"y":0},{"p":"I5","x":2,"y":0},{"p":"I5","x":3,"y":0},{"p":"I5","x":4,"y":0},{"p":"I5","x":5,"y":1},{"p":"I5","x":6,"y":0},{"p":"I5","x":7,"y":0},
{"p":"I6","x":0,"y":0},{"p":"I6","x":1,"y":0},{"p":"I6","x":2,"y":0},{"p":"I6","x":3,"y":0},{"p":"I6","x":4,"y":0},{"p":"I6","x":5,"y":0},{"p":"I6","x":6,"y":1},{"p":"I6","x":7,"y":0},
{"p":"I7","x":0,"y":0},{"p":"I7","x":1,"y":0},{"p":"I7","x":2,"y":0},{"p":"I7","x":3,"y":0},{"p":"I7","x":4,"y":0},{"p":"I7","x":5,"y":0},{"p":"I7","x":6,"y":0},{"p":"I7","x":7,"y":1}
]},
"columns":8,
"spacing":{"row":46.5,"column":35.7},
"bounds":"flush",
"concat":[
{"title":"DCT k=0","transform":[{"filter":"datum.p=='D0'"}],"encoding":{"x":{"field":"x","type":"quantitative","title":null,"scale":{"domain":[-0.9,7.9]}},"y":{"field":"y","type":"quantitative","title":null,"scale":{"domain":[-1.19,1.19]},"axis":{"labels":true}}},"layer":[{"mark":"line"},{"transform":[{"filter":"datum.m"}],"mark":"point"}]},
{"title":"DCT k=1","transform":[{"filter":"datum.p=='D1'"}],"encoding":{"x":{"field":"x","type":"quantitative","title":null,"scale":{"domain":[-0.9,7.9]}},"y":{"field":"y","type":"quantitative","title":null,"scale":{"domain":[-1.19,1.19]}}},"layer":[{"mark":"line"},{"transform":[{"filter":"datum.m"}],"mark":"point"}]},
{"title":"DCT k=2","transform":[{"filter":"datum.p=='D2'"}],"encoding":{"x":{"field":"x","type":"quantitative","title":null,"scale":{"domain":[-0.9,7.9]}},"y":{"field":"y","type":"quantitative","title":null,"scale":{"domain":[-1.19,1.19]}}},"layer":[{"mark":"line"},{"transform":[{"filter":"datum.m"}],"mark":"point"}]},
{"title":"DCT k=3","transform":[{"filter":"datum.p=='D3'"}],"encoding":{"x":{"field":"x","type":"quantitative","title":null,"scale":{"domain":[-0.9,7.9]}},"y":{"field":"y","type":"quantitative","title":null,"scale":{"domain":[-1.19,1.19]}}},"layer":[{"mark":"line"},{"transform":[{"filter":"datum.m"}],"mark":"point"}]},
{"title":"DCT k=4","transform":[{"filter":"datum.p=='D4'"}],"encoding":{"x":{"field":"x","type":"quantitative","title":null,"scale":{"domain":[-0.9,7.9]}},"y":{"field":"y","type":"quantitative","title":null,"scale":{"domain":[-1.19,1.19]}}},"layer":[{"mark":"line"},{"transform":[{"filter":"datum.m"}],"mark":"point"}]},
{"title":"DCT k=5","transform":[{"filter":"datum.p=='D5'"}],"encoding":{"x":{"field":"x","type":"quantitative","title":null,"scale":{"domain":[-0.9,7.9]}},"y":{"field":"y","type":"quantitative","title":null,"scale":{"domain":[-1.19,1.19]}}},"layer":[{"mark":"line"},{"transform":[{"filter":"datum.m"}],"mark":"point"}]},
{"title":"DCT k=6","transform":[{"filter":"datum.p=='D6'"}],"encoding":{"x":{"field":"x","type":"quantitative","title":null,"scale":{"domain":[-0.9,7.9]}},"y":{"field":"y","type":"quantitative","title":null,"scale":{"domain":[-1.19,1.19]}}},"layer":[{"mark":"line"},{"transform":[{"filter":"datum.m"}],"mark":"point"}]},
{"title":"DCT k=7","transform":[{"filter":"datum.p=='D7'"}],"encoding":{"x":{"field":"x","type":"quantitative","title":null,"scale":{"domain":[-0.9,7.9]}},"y":{"field":"y","type":"quantitative","title":null,"scale":{"domain":[-1.19,1.19]}}},"layer":[{"mark":"line"},{"transform":[{"filter":"datum.m"}],"mark":"point"}]},
{"title":"ADST k=0","transform":[{"filter":"datum.p=='A0'"}],"encoding":{"x":{"field":"x","type":"quantitative","title":null,"scale":{"domain":[-0.9,7.9]}},"y":{"field":"y","type":"quantitative","title":null,"scale":{"domain":[-1.19,1.19]},"axis":{"labels":true}}},"layer":[{"mark":"line"},{"transform":[{"filter":"datum.m"}],"mark":"point"}]},
{"title":"ADST k=1","transform":[{"filter":"datum.p=='A1'"}],"encoding":{"x":{"field":"x","type":"quantitative","title":null,"scale":{"domain":[-0.9,7.9]}},"y":{"field":"y","type":"quantitative","title":null,"scale":{"domain":[-1.19,1.19]}}},"layer":[{"mark":"line"},{"transform":[{"filter":"datum.m"}],"mark":"point"}]},
{"title":"ADST k=2","transform":[{"filter":"datum.p=='A2'"}],"encoding":{"x":{"field":"x","type":"quantitative","title":null,"scale":{"domain":[-0.9,7.9]}},"y":{"field":"y","type":"quantitative","title":null,"scale":{"domain":[-1.19,1.19]}}},"layer":[{"mark":"line"},{"transform":[{"filter":"datum.m"}],"mark":"point"}]},
{"title":"ADST k=3","transform":[{"filter":"datum.p=='A3'"}],"encoding":{"x":{"field":"x","type":"quantitative","title":null,"scale":{"domain":[-0.9,7.9]}},"y":{"field":"y","type":"quantitative","title":null,"scale":{"domain":[-1.19,1.19]}}},"layer":[{"mark":"line"},{"transform":[{"filter":"datum.m"}],"mark":"point"}]},
{"title":"ADST k=4","transform":[{"filter":"datum.p=='A4'"}],"encoding":{"x":{"field":"x","type":"quantitative","title":null,"scale":{"domain":[-0.9,7.9]}},"y":{"field":"y","type":"quantitative","title":null,"scale":{"domain":[-1.19,1.19]}}},"layer":[{"mark":"line"},{"transform":[{"filter":"datum.m"}],"mark":"point"}]},
{"title":"ADST k=5","transform":[{"filter":"datum.p=='A5'"}],"encoding":{"x":{"field":"x","type":"quantitative","title":null,"scale":{"domain":[-0.9,7.9]}},"y":{"field":"y","type":"quantitative","title":null,"scale":{"domain":[-1.19,1.19]}}},"layer":[{"mark":"line"},{"transform":[{"filter":"datum.m"}],"mark":"point"}]},
{"title":"ADST k=6","transform":[{"filter":"datum.p=='A6'"}],"encoding":{"x":{"field":"x","type":"quantitative","title":null,"scale":{"domain":[-0.9,7.9]}},"y":{"field":"y","type":"quantitative","title":null,"scale":{"domain":[-1.19,1.19]}}},"layer":[{"mark":"line"},{"transform":[{"filter":"datum.m"}],"mark":"point"}]},
{"title":"ADST k=7","transform":[{"filter":"datum.p=='A7'"}],"encoding":{"x":{"field":"x","type":"quantitative","title":null,"scale":{"domain":[-0.9,7.9]}},"y":{"field":"y","type":"quantitative","title":null,"scale":{"domain":[-1.19,1.19]}}},"layer":[{"mark":"line"},{"transform":[{"filter":"datum.m"}],"mark":"point"}]},
{"title":"FLIPADST k=0","transform":[{"filter":"datum.p=='F0'"}],"encoding":{"x":{"field":"x","type":"quantitative","title":null,"scale":{"domain":[-0.9,7.9]}},"y":{"field":"y","type":"quantitative","title":null,"scale":{"domain":[-1.19,1.19]},"axis":{"labels":true}}},"layer":[{"mark":"line"},{"transform":[{"filter":"datum.m"}],"mark":"point"}]},
{"title":"FLIPADST k=1","transform":[{"filter":"datum.p=='F1'"}],"encoding":{"x":{"field":"x","type":"quantitative","title":null,"scale":{"domain":[-0.9,7.9]}},"y":{"field":"y","type":"quantitative","title":null,"scale":{"domain":[-1.19,1.19]}}},"layer":[{"mark":"line"},{"transform":[{"filter":"datum.m"}],"mark":"point"}]},
{"title":"FLIPADST k=2","transform":[{"filter":"datum.p=='F2'"}],"encoding":{"x":{"field":"x","type":"quantitative","title":null,"scale":{"domain":[-0.9,7.9]}},"y":{"field":"y","type":"quantitative","title":null,"scale":{"domain":[-1.19,1.19]}}},"layer":[{"mark":"line"},{"transform":[{"filter":"datum.m"}],"mark":"point"}]},
{"title":"FLIPADST k=3","transform":[{"filter":"datum.p=='F3'"}],"encoding":{"x":{"field":"x","type":"quantitative","title":null,"scale":{"domain":[-0.9,7.9]}},"y":{"field":"y","type":"quantitative","title":null,"scale":{"domain":[-1.19,1.19]}}},"layer":[{"mark":"line"},{"transform":[{"filter":"datum.m"}],"mark":"point"}]},
{"title":"FLIPADST k=4","transform":[{"filter":"datum.p=='F4'"}],"encoding":{"x":{"field":"x","type":"quantitative","title":null,"scale":{"domain":[-0.9,7.9]}},"y":{"field":"y","type":"quantitative","title":null,"scale":{"domain":[-1.19,1.19]}}},"layer":[{"mark":"line"},{"transform":[{"filter":"datum.m"}],"mark":"point"}]},
{"title":"FLIPADST k=5","transform":[{"filter":"datum.p=='F5'"}],"encoding":{"x":{"field":"x","type":"quantitative","title":null,"scale":{"domain":[-0.9,7.9]}},"y":{"field":"y","type":"quantitative","title":null,"scale":{"domain":[-1.19,1.19]}}},"layer":[{"mark":"line"},{"transform":[{"filter":"datum.m"}],"mark":"point"}]},
{"title":"FLIPADST k=6","transform":[{"filter":"datum.p=='F6'"}],"encoding":{"x":{"field":"x","type":"quantitative","title":null,"scale":{"domain":[-0.9,7.9]}},"y":{"field":"y","type":"quantitative","title":null,"scale":{"domain":[-1.19,1.19]}}},"layer":[{"mark":"line"},{"transform":[{"filter":"datum.m"}],"mark":"point"}]},
{"title":"FLIPADST k=7","transform":[{"filter":"datum.p=='F7'"}],"encoding":{"x":{"field":"x","type":"quantitative","title":null,"scale":{"domain":[-0.9,7.9]}},"y":{"field":"y","type":"quantitative","title":null,"scale":{"domain":[-1.19,1.19]}}},"layer":[{"mark":"line"},{"transform":[{"filter":"datum.m"}],"mark":"point"}]},
{"title":"IDTX k=0","transform":[{"filter":"datum.p=='I0'"}],"mark":"point","encoding":{"x":{"field":"x","type":"quantitative","title":null,"scale":{"domain":[-0.9,7.9]},"axis":{"labels":true}},"y":{"field":"y","type":"quantitative","title":null,"scale":{"domain":[-1.19,1.19]},"axis":{"labels":true}}}},
{"title":"IDTX k=1","transform":[{"filter":"datum.p=='I1'"}],"mark":"point","encoding":{"x":{"field":"x","type":"quantitative","title":null,"scale":{"domain":[-0.9,7.9]},"axis":{"labels":true}},"y":{"field":"y","type":"quantitative","title":null,"scale":{"domain":[-1.19,1.19]}}}},
{"title":"IDTX k=2","transform":[{"filter":"datum.p=='I2'"}],"mark":"point","encoding":{"x":{"field":"x","type":"quantitative","title":null,"scale":{"domain":[-0.9,7.9]},"axis":{"labels":true}},"y":{"field":"y","type":"quantitative","title":null,"scale":{"domain":[-1.19,1.19]}}}},
{"title":"IDTX k=3","transform":[{"filter":"datum.p=='I3'"}],"mark":"point","encoding":{"x":{"field":"x","type":"quantitative","title":null,"scale":{"domain":[-0.9,7.9]},"axis":{"labels":true}},"y":{"field":"y","type":"quantitative","title":null,"scale":{"domain":[-1.19,1.19]}}}},
{"title":"IDTX k=4","transform":[{"filter":"datum.p=='I4'"}],"mark":"point","encoding":{"x":{"field":"x","type":"quantitative","title":null,"scale":{"domain":[-0.9,7.9]},"axis":{"labels":true}},"y":{"field":"y","type":"quantitative","title":null,"scale":{"domain":[-1.19,1.19]}}}},
{"title":"IDTX k=5","transform":[{"filter":"datum.p=='I5'"}],"mark":"point","encoding":{"x":{"field":"x","type":"quantitative","title":null,"scale":{"domain":[-0.9,7.9]},"axis":{"labels":true}},"y":{"field":"y","type":"quantitative","title":null,"scale":{"domain":[-1.19,1.19]}}}},
{"title":"IDTX k=6","transform":[{"filter":"datum.p=='I6'"}],"mark":"point","encoding":{"x":{"field":"x","type":"quantitative","title":null,"scale":{"domain":[-0.9,7.9]},"axis":{"labels":true}},"y":{"field":"y","type":"quantitative","title":null,"scale":{"domain":[-1.19,1.19]}}}},
{"title":"IDTX k=7","transform":[{"filter":"datum.p=='I7'"}],"mark":"point","encoding":{"x":{"field":"x","type":"quantitative","title":null,"scale":{"domain":[-0.9,7.9]},"axis":{"labels":true}},"y":{"field":"y","type":"quantitative","title":null,"scale":{"domain":[-1.19,1.19]}}}}
],
"config":{
"background":"#000000",
"view":{"continuousWidth":178,"continuousHeight":182,"stroke":"#ffffff","strokeWidth":1.1,"fill":"#000000"},
"axis":{"domain":false,"grid":false,"labels":false,"ticks":true,"tickColor":"#ffffff","tickSize":3.5,"tickWidth":1,"labelColor":"#ffffff","labelFont":"DejaVu Sans","labelFontSize":13.9,"labelPadding":3,"labelFlush":false},
"axisX":{"tickCount":8},
"axisY":{"tickCount":5},
"title":{"font":"DejaVu Sans","fontSize":18.5,"fontWeight":"normal","color":"#ffffff","anchor":"middle","baseline":"alphabetic","offset":2},
"line":{"color":"#7b68ee","strokeWidth":1.8,"interpolate":"cardinal"},
"point":{"shape":"circle","filled":true,"fill":"#000000","stroke":"#ffd700","strokeWidth":2.2,"size":70,"opacity":1}
}
}
